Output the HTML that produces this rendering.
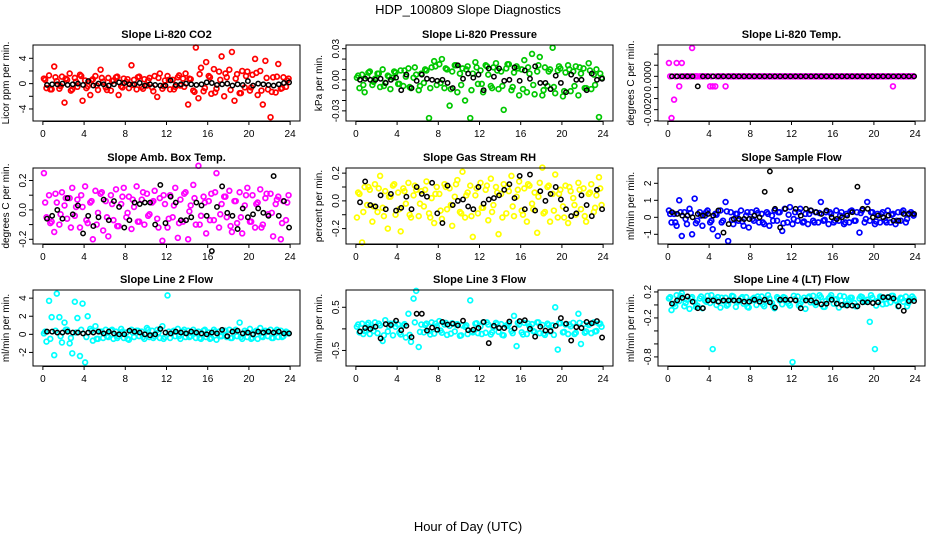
<!DOCTYPE html>
<html><head><meta charset="utf-8">
<style>
html,body{margin:0;padding:0;background:#fff;}
svg{display:block;font-family:"Liberation Sans",Arial,sans-serif;}
</style></head>
<body>
<svg id="chart" width="936" height="540" viewBox="0 0 936 540">
<text x="468" y="14" text-anchor="middle" font-size="13">HDP_100809  Slope Diagnostics</text>
<text x="468" y="531" text-anchor="middle" font-size="13">Hour of Day (UTC)</text>
</svg>
<script>
const xTicks = [0,4,8,12,16,20,24];
const titles = ["Slope Li-820 CO2","Slope Li-820 Pressure","Slope Li-820 Temp.","Slope Amb. Box Temp.","Slope Gas Stream RH","Slope Sample Flow","Slope Line 2 Flow","Slope Line 3 Flow","Slope Line 4 (LT) Flow"];
const yTitles = ["Licor ppm per min.","kPa per min.","degrees C per min.","degrees C per min.","percent per min.","ml/min per min.","ml/min per min.","ml/min per min.","ml/min per min."];
const colors = ["#ff0000","#00c800","#ff00ff","#ff00ff","#ffff00","#0000ff","#00ffff","#00ffff","#00ffff"];

const co2 = [0.8,-0.7,1.3,-0.9,2.7,0.4,-0.8,1.1,-3.0,0.6,1.6,-0.9,0.9,-0.5,1.4,-2.7,0.5,-0.4,-1.8,0.7,1.2,-1.0,2.2,0.3,
-0.6,0.9,-1.1,0.5,1.0,-1.8,-0.4,0.8,0.3,-0.7,2.9,0.6,-0.9,1.1,-0.5,0.7,-0.3,0.9,-0.6,1.2,-2.1,1.6,-0.8,0.5,
1.2,-0.9,0.6,-0.5,1.0,-0.3,0.8,1.6,-3.3,0.7,-1.1,5.7,-2.3,2.5,-1.2,3.4,1.2,-1.6,2.3,-0.8,1.9,4.3,-2.0,1.0,
2.2,5.0,-2.7,1.5,-1.5,2.0,-0.6,1.9,-1.1,1.4,3.9,-1.8,2.0,-3.3,3.6,-0.9,-5.3,1.0,-1.4,3.1,-0.8,1.0,-0.5,0.8];
const co2Core = [0.6,-0.9,1.0,-0.4,0.8,-1.1,0.3,1.2,-0.7,0.5,-0.3,0.9,-1.0,0.4,1.1,-0.6,0.7,-0.2,1.0,-0.8,0.5,-1.2,0.9,-0.4,0.6,-0.9,1.3,-0.5,0.8,-1.3,1.5,-0.7,1.0,-1.4,0.6,1.6,-1.0,0.8,-1.5,1.2,-0.6,1.7,-1.1,0.9,-1.3,1.1,-0.7,0.5];
const co2Black = [-0.2,-0.1,-0.1,0,-0.2,-0.1,0,-0.2,0.4,-0.3,0,-0.1,-0.3,-0.1,0.2,0.1,-0.1,-0.1,0.1,-0.3,-0.1,-0.2,-0.3,-0.3,0.5,-0.2,-0.1,0,-0.1,-0.2,-0.1,0.2,0.1,-0.2,-0.1,0,-0.3,-0.1,-0.2,0.4,-0.3,0,-0.1,-0.2,-0.3,-0.1,0.1,0.2];

const pres = [0.002,-0.008,0.005,-0.012,0.003,0.008,-0.005,0.001,0.006,-0.007,0.010,-0.003,0.004,-0.009,0.002,0.007,-0.004,0.009,-0.006,0.003,0.011,-0.008,0.002,0.005,
-0.010,0.006,-0.003,0.009,-0.037,0.012,0.018,-0.005,0.015,0.020,-0.008,0.010,-0.025,0.008,0.014,-0.012,0.006,0.011,-0.020,0.013,-0.037,0.006,0.017,-0.004,
0.009,-0.012,0.014,0.005,-0.006,0.012,0.016,-0.009,0.008,-0.029,0.011,0.015,-0.010,0.007,0.013,-0.015,0.010,0.019,-0.012,0.006,0.025,-0.014,0.008,0.022,
-0.015,0.012,-0.006,0.010,0.031,-0.013,0.009,0.011,-0.016,0.007,0.014,-0.011,0.008,0.013,-0.015,0.006,0.011,-0.008,0.016,-0.009,0.005,0.010,-0.036,0.002];
const presCore = [0.004,-0.005,0.007,-0.002,0.006,-0.006,0.003,0.008,-0.004,0.009,-0.007,0.012,-0.006,0.010,-0.008,0.013,-0.003,0.011,-0.009,0.014,-0.005,0.010,-0.010,0.012,-0.004,0.013,-0.008,0.009,-0.006,0.015,-0.007,0.011,-0.009,0.012,-0.005,0.014,-0.010,0.008,-0.007,0.013,-0.011,0.010,-0.006,0.012,-0.008,0.009,-0.005,0.006];
const presBlack = [0,0.001,0,0,0.001,-0.003,0,0.002,-0.010,0.005,-0.008,-0.001,0.005,0.001,0,-0.001,0,-0.003,-0.008,0.014,0.001,0.006,0.002,0.005,-0.010,0.011,0.003,0.011,-0.001,0,0.012,-0.001,0.009,0.001,0.013,-0.003,-0.003,-0.009,0.004,-0.003,-0.012,0.005,0,0,-0.010,0.006,0,0.001];

const temp = [0.0008,-0.0025,-0.0014,0.0008,-0.0006,0.0008,0,0,0,0.0017,0,0,0,0,0,0,-0.0006,-0.0006,-0.0006,0,0,0,-0.0006,0,
0,0,0,0,0,0,0,0,0,0,0,0,0,0,0,0,0,0,0,0,0,0,0,0,
0,0,0,0,0,0,0,0,0,0,0,0,0,0,0,0,0,0,0,0,0,0,0,0,
0,0,0,0,0,0,0,0,0,0,0,0,0,0,0,-0.0006,0,0,0,0,0,0,0,0];
const tempCore = [0,0,0,0,0,0,0,0,0,0,0,0,0,0,0,0,0,0,0,0,0,0,0,0,0,0,0,0,0,0,0,0,0,0,0,0,0,0,0,0,0,0,0,0,0,0,0,0];
const tempBlack = [0,0,0,0,0,-0.0006,0,0,0,0,0,0,0,0,0,0,0,0,0,0,0,0,0,0,0,0,0,0,0,0,0,0,0,0,0,0,0,0,0,0,0,0,0,0,0,0,0,0];

const amb = [0.25,-0.05,0.10,-0.08,-0.15,0.05,-0.10,0.12,0.03,-0.06,0.08,0.15,-0.04,0.07,-0.12,0.02,0.16,-0.09,0.05,-0.20,0.13,-0.02,0.11,-0.14,
0.06,-0.18,0.10,-0.07,0.14,-0.11,0.04,0.15,-0.05,0.09,-0.13,0.02,0.16,-0.08,0.07,-0.10,0.11,-0.03,0.05,0.13,-0.06,0.08,-0.21,0.04,
-0.12,0.10,-0.05,0.15,-0.19,0.07,-0.08,0.12,-0.20,0.03,0.17,-0.10,0.30,-0.04,0.09,-0.16,0.06,0.11,-0.07,0.25,-0.12,0.04,0.09,-0.05,
0.13,-0.15,0.06,-0.09,0.12,-0.16,0.03,0.15,-0.08,0.10,-0.12,0.05,0.14,-0.10,0.08,-0.03,0.11,-0.18,0.04,0.09,-0.20,0.06,-0.07,0.10];
const ambCore = [0.05,-0.09,0.11,-0.03,0.08,-0.12,0.02,0.10,-0.07,0.06,-0.10,0.12,-0.05,0.04,-0.11,0.09,-0.02,0.07,-0.08,0.12,-0.04,0.06,-0.12,0.10,-0.06,0.03,-0.09,0.11,-0.01,0.08,-0.10,0.05,-0.07,0.12,-0.03,0.09,-0.11,0.06,-0.05,0.10,-0.08,0.04,-0.12,0.11,-0.02,0.07,-0.09,0.05];
const ambBlack = [-0.06,-0.04,0,-0.06,0.08,-0.03,0.03,-0.16,-0.04,-0.11,-0.05,0.07,-0.07,0.06,0.02,-0.12,-0.07,0.05,0.04,0.05,0.05,-0.10,0.17,-0.09,0.09,0.05,-0.07,-0.07,-0.05,0.05,0.03,-0.04,-0.28,0.02,0.16,-0.02,-0.04,-0.13,0.01,-0.05,-0.03,0.01,-0.02,-0.04,0.23,-0.04,0.06,-0.12];

const rh = [-0.12,0.05,-0.30,0.10,-0.03,0.08,-0.15,0.12,-0.08,0.18,-0.05,0.07,-0.20,0.03,0.11,-0.10,0.06,-0.22,0.09,-0.02,0.13,-0.12,0.04,0.08,
-0.11,0.07,-0.04,0.14,-0.09,0.02,-0.16,0.10,0.05,-0.13,0.12,-0.06,0.09,-0.18,0.03,0.15,-0.08,0.21,-0.12,0.06,0.11,-0.26,0.04,-0.09,
0.13,-0.05,0.08,-0.14,0.16,-0.03,0.10,-0.24,0.05,0.12,-0.09,0.07,0.18,-0.11,0.03,0.14,-0.07,0.09,-0.15,0.11,-0.02,0.06,-0.23,0.13,
0.24,-0.08,0.10,-0.15,0.05,0.19,-0.12,0.08,-0.04,0.11,-0.16,0.07,0.02,-0.10,0.13,-0.06,0.09,-0.15,0.05,0.12,-0.08,0.04,0.17,-0.03];
const rhCore = [0.06,-0.08,0.10,-0.04,0.09,-0.11,0.03,0.12,-0.06,0.07,-0.10,0.11,-0.02,0.08,-0.12,0.05,-0.07,0.10,-0.03,0.12,-0.09,0.04,-0.11,0.09,-0.05,0.11,-0.08,0.06,-0.12,0.10,-0.04,0.08,-0.10,0.12,-0.06,0.03,-0.09,0.11,-0.07,0.05,-0.12,0.10,-0.03,0.08,-0.11,0.06,-0.05,0.09];
const rhBlack = [-0.01,0.14,-0.03,-0.04,0.04,-0.06,0.05,-0.07,-0.05,0.03,-0.06,0.10,0.05,0.03,0.13,-0.09,-0.16,0.11,-0.03,0.00,0.01,-0.04,-0.06,0.10,-0.02,0.01,0.02,0.04,0.08,0.12,0.02,0.18,-0.06,0.19,-0.07,0.07,0.00,0.05,0.10,0.01,-0.06,-0.11,-0.09,0.04,-0.03,-0.11,0.08,-0.06];

const sample = [0.4,-0.3,0.2,-0.5,1.0,-1.1,0.3,-0.4,0.5,-1.0,1.1,-0.2,0.3,-0.5,0.1,0.4,-0.3,-0.7,0.2,-1.1,0.4,-0.2,0.9,-1.4,
0.3,-0.4,0.2,-0.2,0.4,-0.5,0.1,-0.6,0.3,-0.2,0.4,-0.3,0.2,-0.4,0.3,-0.5,0.1,0.4,-0.2,0.3,-0.8,0.5,-0.3,0.6,
-0.4,0.3,-0.2,0.5,-0.3,0.2,-0.4,0.4,-0.2,0.3,-0.3,0.9,-0.2,0.3,-0.4,0.2,-0.3,0.4,-0.2,0.3,-0.4,0.2,-0.3,0.4,
-0.2,0.3,-0.9,0.4,-0.3,0.9,-0.2,0.3,-0.4,0.2,-0.3,0.3,-0.2,0.4,-0.3,0.2,-0.4,0.3,-0.2,0.4,-0.3,0.2,0.3,0.1];
const sampleCore = [0.2,-0.3,0.3,-0.1,0.25,-0.35,0.1,0.3,-0.2,0.15,-0.3,0.35,-0.15,0.2,-0.25,0.3,-0.1,0.25,-0.3,0.2,-0.2,0.3,-0.35,0.15,-0.1,0.3,-0.25,0.2,-0.3,0.25,-0.15,0.3,-0.2,0.1,-0.3,0.35,-0.2,0.25,-0.1,0.3,-0.25,0.2,-0.3,0.15,-0.2,0.3,-0.1,0.2];
const sampleBlack = [0.3,0.2,0.1,0.1,0,0.2,0.1,0.2,0.1,0.4,-0.9,-0.4,-0.1,-0.1,-0.1,-0.1,0.1,0,1.5,2.7,0.5,-0.6,0.5,1.6,0.5,0.1,0.5,0.4,0.3,0.2,0.4,0,-0.1,0,0.1,0.3,1.8,0.5,0.5,0,0.1,0,0.1,-0.2,-0.2,0.2,0.2,0.2];

const line2 = [0.1,-0.8,3.7,1.9,-2.3,4.5,1.9,-0.9,1.3,0.5,-1.0,-2.1,3.6,1.8,-2.4,3.4,-3.1,2.0,0.6,-0.7,0.9,-0.5,0.3,-0.4,
0.5,-0.3,0.4,-0.5,0.3,-0.2,0.6,-0.4,0.2,-0.6,0.5,-0.3,0.4,-0.2,0.3,-0.5,0.7,-0.3,0.4,-0.2,0.5,-0.4,0.9,-0.3,
4.3,-0.4,0.3,-0.2,0.6,-0.5,0.3,-0.3,0.4,-0.2,0.5,-0.4,0.3,-0.5,0.4,-0.3,0.2,-0.4,0.5,-0.6,0.3,-0.2,0.4,-0.3,
0.5,-0.4,0.3,-0.2,1.3,-0.5,0.4,-0.3,0.6,-0.4,0.3,-0.5,0.7,-0.3,0.4,-0.2,0.5,-0.4,0.3,-0.3,0.4,-0.2,0.3,0.1];
const line2Core = [0.3,-0.5,0.4,-0.2,0.5,-0.4,0.2,0.5,-0.3,0.4,-0.5,0.3,-0.2,0.5,-0.4,0.3,-0.5,0.2,0.4,-0.3,0.5,-0.4,0.2,-0.5,0.3,0.4,-0.2,0.5,-0.3,0.2,-0.4,0.5,-0.5,0.3,-0.2,0.4,-0.4,0.5,-0.3,0.2,-0.5,0.4,-0.2,0.3,-0.4,0.5,-0.3,0.2];
const line2Black = [0.3,0.3,0.2,0.2,0.3,0.2,0.2,0.1,0.2,0.2,0.3,0.1,0.3,0.1,0,0,0.4,0.3,0.2,0,-0.1,0,0.6,0.2,0.1,0.3,0.2,0.1,0.3,0.2,0.1,0,0.2,0.1,0.5,-0.2,0.3,0.4,0.1,0.2,0,0.3,0.2,0.3,0.2,0.3,0.1,0.1];

const line3 = [0.05,-0.08,0.12,-0.05,0.10,-0.12,0.03,0.15,-0.10,0.08,-0.28,0.20,-0.06,0.12,-0.15,0.05,0.10,-0.13,0.08,-0.20,0.35,-0.30,0.70,0.88,
-0.42,0.10,-0.08,0.12,-0.05,0.15,-0.11,0.06,0.18,-0.09,0.10,-0.14,0.07,0.13,-0.06,0.11,-0.16,0.08,0.05,-0.12,0.66,-0.08,0.12,-0.10,
0.06,0.15,-0.09,0.10,-0.13,0.04,0.14,-0.07,0.11,-0.15,0.08,0.12,-0.05,0.30,-0.40,0.10,-0.08,0.14,-0.12,0.06,0.11,-0.07,0.15,-0.10,
0.09,-0.14,0.12,-0.06,0.08,0.50,-0.48,0.13,-0.08,0.10,-0.12,0.06,0.14,-0.09,0.35,-0.35,0.11,-0.06,0.09,-0.10,0.15,-0.05,0.12,0.05];
const line3Core = [0.10,-0.12,0.14,-0.05,0.12,-0.15,0.06,0.13,-0.09,0.11,-0.14,0.15,-0.07,0.09,-0.13,0.12,-0.04,0.14,-0.11,0.10,-0.15,0.08,-0.06,0.13,-0.12,0.15,-0.08,0.11,-0.14,0.07,-0.10,0.14,-0.13,0.12,-0.05,0.15,-0.11,0.09,-0.14,0.13,-0.07,0.10,-0.12,0.14,-0.09,0.11,-0.06,0.12];
const line3Black = [-0.06,0.02,0,0.05,-0.22,0.11,0.09,0.19,-0.03,0.07,-0.19,0.35,0.35,-0.04,0.03,-0.02,0.16,0.10,0.12,0.08,0.19,-0.03,-0.02,0.02,0.16,-0.33,0.07,0.02,0.02,0.17,0.01,0.18,0.20,0.00,-0.18,0.05,-0.04,-0.05,0.07,0.25,0.12,-0.27,0.04,0.02,0.16,0.13,0.18,-0.20];

const line4 = [0.10,-0.08,0.02,0.15,0.06,0.18,-0.02,0.08,-0.06,0.12,0.04,-0.01,0.10,-0.05,0.07,0.14,0.03,-0.68,0.09,0.12,-0.04,0.06,0.11,0.01,
0.08,0.13,-0.03,0.06,0.10,0.02,0.12,-0.04,0.07,0.11,0.00,0.09,0.13,-0.02,0.06,0.10,0.03,-0.05,0.12,0.07,0.01,0.11,0.05,-0.01,
-0.88,0.09,0.13,0.02,0.07,-0.06,0.11,0.04,0.14,0.00,0.08,0.12,-0.03,0.06,0.10,0.15,0.02,0.09,-0.04,0.07,0.13,0.01,0.08,0.11,
0.03,-0.02,0.10,0.12,0.05,0.08,-0.26,0.11,-0.68,0.06,0.13,0.01,0.09,0.12,0.04,0.14,0.07,-0.02,0.11,0.05,0.13,0.03,0.08,0.10];
const line4Core = [0.12,-0.02,0.14,0.03,0.10,-0.03,0.13,0.05,0.15,0.00,0.11,-0.01,0.14,0.04,0.12,-0.03,0.09,0.13,0.01,0.15,-0.02,0.10,0.12,0.02,0.14,-0.01,0.11,0.13,0.03,0.15,-0.03,0.12,0.08,0.14,0.00,0.11,-0.02,0.13,0.05,0.15,-0.01,0.12,0.02,0.14,0.06,0.10,-0.02,0.13];
const line4Black = [0.02,0.07,0.11,0.13,0.05,-0.05,-0.05,0.07,0.07,0.05,0.07,0.07,0.07,0.07,0.05,0.05,0.08,0.05,0.08,0.04,-0.04,0.08,0.08,0.08,0.07,-0.05,0.07,0.07,0.04,0.01,0.02,0.08,0.02,0.00,-0.01,-0.01,-0.02,0.04,0.04,0.03,0.04,0.12,0.12,0.10,-0.02,-0.09,0.06,0.06];

const yTicks1 = [-4,-2,0,2,4], yLabels1 = ["-4","","0","","4"];
const yTicks2 = [-0.03,-0.02,-0.01,0,0.01,0.02,0.03], yLabels2 = ["-0.03","","","0.00","","","0.03"];
const yTicks3 = [-0.0026667,-0.002,-0.0013333,-0.0006667,0,0.0006667,0.0013333,0.002], yLabels3 = ["","-0.0020","","","0.0000","","",""];
const yTicks4 = [-0.2,-0.1,0,0.1,0.2], yLabels4 = ["-0.2","","0.0","","0.2"];
const yTicks5 = [-0.2,-0.1,0,0.1,0.2], yLabels5 = ["-0.2","","0.0","","0.2"];
const yTicks6 = [-1,0,1,2], yLabels6 = ["-1","0","1","2"];
const yTicks7 = [-2,0,2,4], yLabels7 = ["-2","0","2","4"];
const yTicks8 = [-0.5,0,0.5], yLabels8 = ["-0.5","","0.5"];
const yTicks9 = [-0.8,-0.6,-0.4,-0.2,0,0.2], yLabels9 = ["-0.8","","","-0.2","","0.2"];

const series = [co2,pres,temp,amb,rh,sample,line2,line3,line4];
const coreSeries = [co2Core,presCore,tempCore,ambCore,rhCore,sampleCore,line2Core,line3Core,line4Core];
const blackSeries = [co2Black,presBlack,tempBlack,ambBlack,rhBlack,sampleBlack,line2Black,line3Black,line4Black];
const yTickSets = [yTicks1,yTicks2,yTicks3,yTicks4,yTicks5,yTicks6,yTicks7,yTicks8,yTicks9];
const yLabelSets = [yLabels1,yLabels2,yLabels3,yLabels4,yLabels5,yLabels6,yLabels7,yLabels8,yLabels9];
const yDomains = [[-5.9,6.1],[-0.0398,0.0336],[-0.00268,0.00188],[-0.232,0.285],[-0.311,0.237],[-1.57,2.9],[-3.5,4.9],[-0.86,0.90],[-0.94,0.23]];

const NS="http://www.w3.org/2000/svg";
const svg=document.getElementById('chart');
function mk(tag,attrs,parent){const e=document.createElementNS(NS,tag);for(const k in attrs)e.setAttribute(k,attrs[k]);(parent||svg).appendChild(e);return e;}
const colLeft=[33,346,658], rowTop=[45,168,290], W=267, H=76;

for(let p=0;p<9;p++){
  const L=colLeft[p%3], T=rowTop[Math.floor(p/3)];
  const g=mk('g',{});
  
  
  const xs=h=>L+(h+0.96)/25.92*W;
  const [y0,y1]=yDomains[p];
  const ys=v=>T+H-(v-y0)/(y1-y0)*H;
  const t=mk('text',{x:L+W/2,y:T-7,'text-anchor':'middle','font-size':11,'font-weight':'bold'},g);
  t.textContent=titles[p];
  
  
  const yt=mk('text',{transform:`translate(${L-24},${T+H/2}) rotate(-90)`,'text-anchor':'middle','font-size':10},g);
  yt.textContent=yTitles[p];
  
  
  const cs=series[p];
  for(let i=0;i<cs.length;i++){
    const c=mk('circle',{cx:xs(i*0.25+0.1),cy:ys(cs[i]),r:2.4,fill:'none',stroke:colors[p],'stroke-width':1.7},g);
    
    
  }
  const cc=coreSeries[p];
  for(let i=0;i<cc.length;i++){
    const c=mk('circle',{cx:xs(i*0.5+0.22),cy:ys(cc[i]),r:2.4,fill:'none',stroke:colors[p],'stroke-width':1.7},g);
    
    
  }
  const bs=blackSeries[p];
  for(let i=0;i<bs.length;i++){
    const c=mk('circle',{cx:xs(i*0.5+0.4),cy:ys(bs[i]),r:2.2,fill:'none',stroke:'#000','stroke-width':1.5},g);
    
    
  }
  const box=mk('rect',{x:L,y:T,width:W,height:H,fill:'none',stroke:'#000','stroke-width':1},g);
  
  
  xTicks.forEach(v=>{
    mk('line',{x1:xs(v),x2:xs(v),y1:T+H,y2:T+H+4,stroke:'#000'},g);
    const tx=mk('text',{x:xs(v),y:T+H+16,'text-anchor':'middle','font-size':10},g);
    tx.textContent=v;
    
    
  });
  mk('line',{x1:xs(0),x2:xs(24),y1:T+H+0.5,y2:T+H+0.5,stroke:'#000'},g);
  const ytk=yTickSets[p], ylb=yLabelSets[p];
  ytk.forEach((v,i)=>{
    const y=ys(v);
    if(y<T-1||y>T+H+1)return;
    mk('line',{x1:L-4,x2:L,y1:y,y2:y,stroke:'#000'},g);
    if(ylb[i]){
      const tx=mk('text',{transform:`translate(${L-7},${y}) rotate(-90)`,'text-anchor':'middle','font-size':10},g);
      tx.textContent=ylb[i];
      
      
    }
  });
}
</script>
</body></html>
